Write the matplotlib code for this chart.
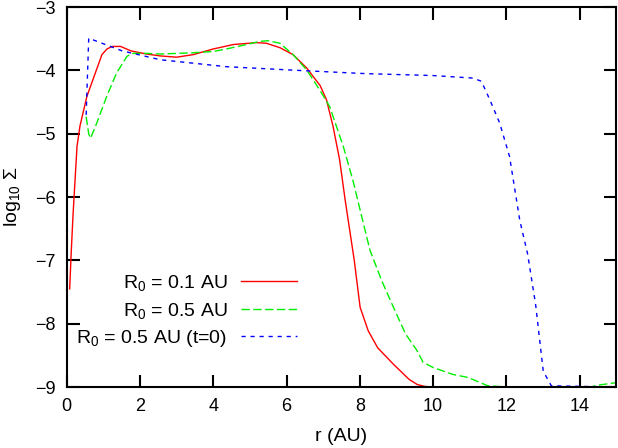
import numpy as np
import matplotlib
matplotlib.use('Agg')
import matplotlib.pyplot as plt

plt.rcParams['font.family'] = ['Liberation Sans', 'DejaVu Sans']
plt.rcParams['mathtext.fontset'] = 'custom'
plt.rcParams['mathtext.rm'] = 'Liberation Sans'
plt.rcParams['mathtext.it'] = 'Liberation Sans'

# R0 = 0.1 AU
r_01 = [0.08, 0.12, 0.17, 0.22, 0.28, 0.36, 0.42, 0.55, 0.78, 0.96, 1.1, 1.24, 1.47,
        1.75, 2.18, 2.55, 3.0, 3.45, 4.0, 4.55, 5.18, 5.45, 5.82, 6.18, 6.55,
        6.92, 7.09, 7.27, 7.45, 7.6, 7.85, 8.01, 8.23, 8.49, 8.92, 9.35, 9.57,
        9.78, 10.0]
s_01 = [-7.45, -6.9, -6.3, -5.8, -5.2, -4.88, -4.73, -4.41, -4.04, -3.75, -3.66, -3.62, -3.62,
        -3.69, -3.74, -3.77, -3.79, -3.75, -3.66, -3.59, -3.56, -3.57, -3.64, -3.75, -3.96,
        -4.24, -4.46, -4.88, -5.41, -6.04, -7.0, -7.74, -8.11, -8.38, -8.64, -8.88, -8.96,
        -8.99, -9.0]

# R0 = 0.5 AU
r_05 = [0.53, 0.6, 0.65, 0.82, 1.09, 1.36, 1.64, 1.77, 2.18, 2.55, 3.0, 3.45, 4.0,
        4.36, 4.91, 5.27, 5.5, 5.82, 6.18, 6.55, 6.91, 7.18, 7.55, 7.82, 8.05, 8.28,
        8.6, 8.92, 9.25, 9.57, 9.73, 10.0, 10.54, 10.97, 11.29, 11.5, 12.04, 14.3,
        14.5, 15.0]
s_05 = [-4.73, -5.0, -5.07, -4.83, -4.41, -4.04, -3.78, -3.73, -3.73, -3.74, -3.73, -3.72, -3.7,
        -3.66, -3.59, -3.54, -3.53, -3.57, -3.75, -3.99, -4.31, -4.57, -5.2, -5.75, -6.3, -6.84,
        -7.32, -7.74, -8.16, -8.43, -8.61, -8.69, -8.8, -8.85, -8.93, -8.98, -9.0, -9.0,
        -8.97, -8.93]

# R0 = 0.5 AU, initial profile
r_init = [0.53, 0.6, 1.51, 2.55, 4.36, 6.36, 8.18, 10.0, 11.09, 11.32, 11.55, 11.82,
          12.09, 12.37, 12.58, 12.8, 13.01, 13.23, 15.0]
s_init = [-4.7, -3.49, -3.69, -3.83, -3.94, -4.0, -4.05, -4.08, -4.12, -4.17, -4.46, -4.83,
          -5.36, -6.37, -6.89, -7.69, -8.75, -8.98, -9.0]

labels = ['R$_0$ = 0.1 AU', 'R$_0$ = 0.5 AU', 'R$_0$ = 0.5 AU (t=0)']

fig = plt.figure(figsize=(6.18, 4.48), dpi=100)
ax = fig.add_axes([0.108, 0.136, 0.889, 0.848])

ax.plot(r_01, s_01, color='#ff0000', lw=1.0, label=labels[0])
ax.plot(r_05, s_05, color='#00ee00', lw=1.0, dashes=(6, 2.5), label=labels[1])
ax.plot(r_init, s_init, color='#0000ff', lw=1.0, dashes=(3, 3.5), label=labels[2])

ax.set_xlim(0, 15)
ax.set_ylim(-9, -3)
ax.set_xticks(np.arange(0, 15, 2))
ax.set_yticks(np.arange(-9, -2, 1))
ax.tick_params(direction='in', length=9, width=1.5, top=True, right=True,
               labelsize=13, pad=8)
for sp in ax.spines.values():
    sp.set_linewidth(1.5)

ax.set_xlabel('r (AU)', fontsize=14, labelpad=9)
ax.set_ylabel(r'log$_{10}$ $\Sigma$', fontsize=14, labelpad=9)

ax.legend(loc='center right', bbox_to_anchor=(0.419, 0.2), frameon=False,
          markerfirst=False, fontsize=14, handlelength=2.9, handletextpad=0.67,
          labelspacing=0.39, borderpad=0, borderaxespad=0)

fig.savefig('out.png', dpi=100)
